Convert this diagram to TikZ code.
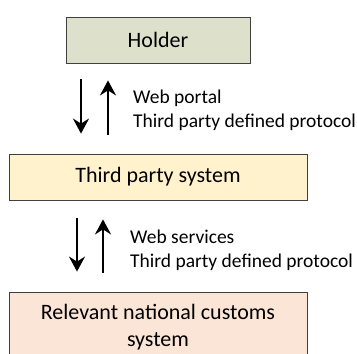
\documentclass[tikz,border=0pt]{standalone}
\usepackage{fontspec}
\setmainfont{Carlito}
\usetikzlibrary{arrows.meta}

\definecolor{holderfill}{HTML}{DDE1CB}
\definecolor{thirdfill}{HTML}{FFF2CC}
\definecolor{customsfill}{HTML}{FBE5D6}

\begin{document}
\begin{tikzpicture}[x=1pt, y=-1pt,
	sysbox/.style={draw=black!75, line width=0.8pt, inner sep=0pt, align=center, font=\fontsize{22}{27}\selectfont},
	linklabel/.style={anchor=west, align=left, inner sep=0pt, font=\fontsize{19.5}{24}\selectfont},
	flow/.style={-{Stealth[length=15pt, width=16pt, inset=5pt]}, line width=2.8pt}]
	\useasboundingbox (0,0) rectangle (357,354);
	\node[sysbox, fill=holderfill, minimum width=184pt, minimum height=46pt] (holder) at (158,40) {Holder};
	\node[sysbox, fill=thirdfill, minimum width=298pt, minimum height=46pt] (third) at (158,177) {Third party system};
	\node[sysbox, fill=customsfill, minimum width=298pt, minimum height=70pt] (customs) at (158,327) {Relevant national customs\\ system};
	% holder <-> third party system
	\draw[flow] ([xshift=-77pt, yshift=-16pt]holder.south) -- ([xshift=-77pt, yshift=20pt]third.north);
	\draw[flow] ([xshift=-50pt, yshift=19pt]third.north) -- ([xshift=-50pt, yshift=-17pt]holder.south);
	\node[linklabel] (portal) at (133,110) {Web portal\\ Third party defined protocol};
	% third party system <-> customs
	\draw[flow] ([xshift=-81pt, yshift=-18pt]third.south) -- ([xshift=-81pt, yshift=20pt]customs.north);
	\draw[flow] ([xshift=-55pt, yshift=19pt]customs.north) -- ([xshift=-55pt, yshift=-19pt]third.south);
	\node[linklabel] (services) at (130,250) {Web services\\ Third party defined protocol};
\end{tikzpicture}
\end{document}
